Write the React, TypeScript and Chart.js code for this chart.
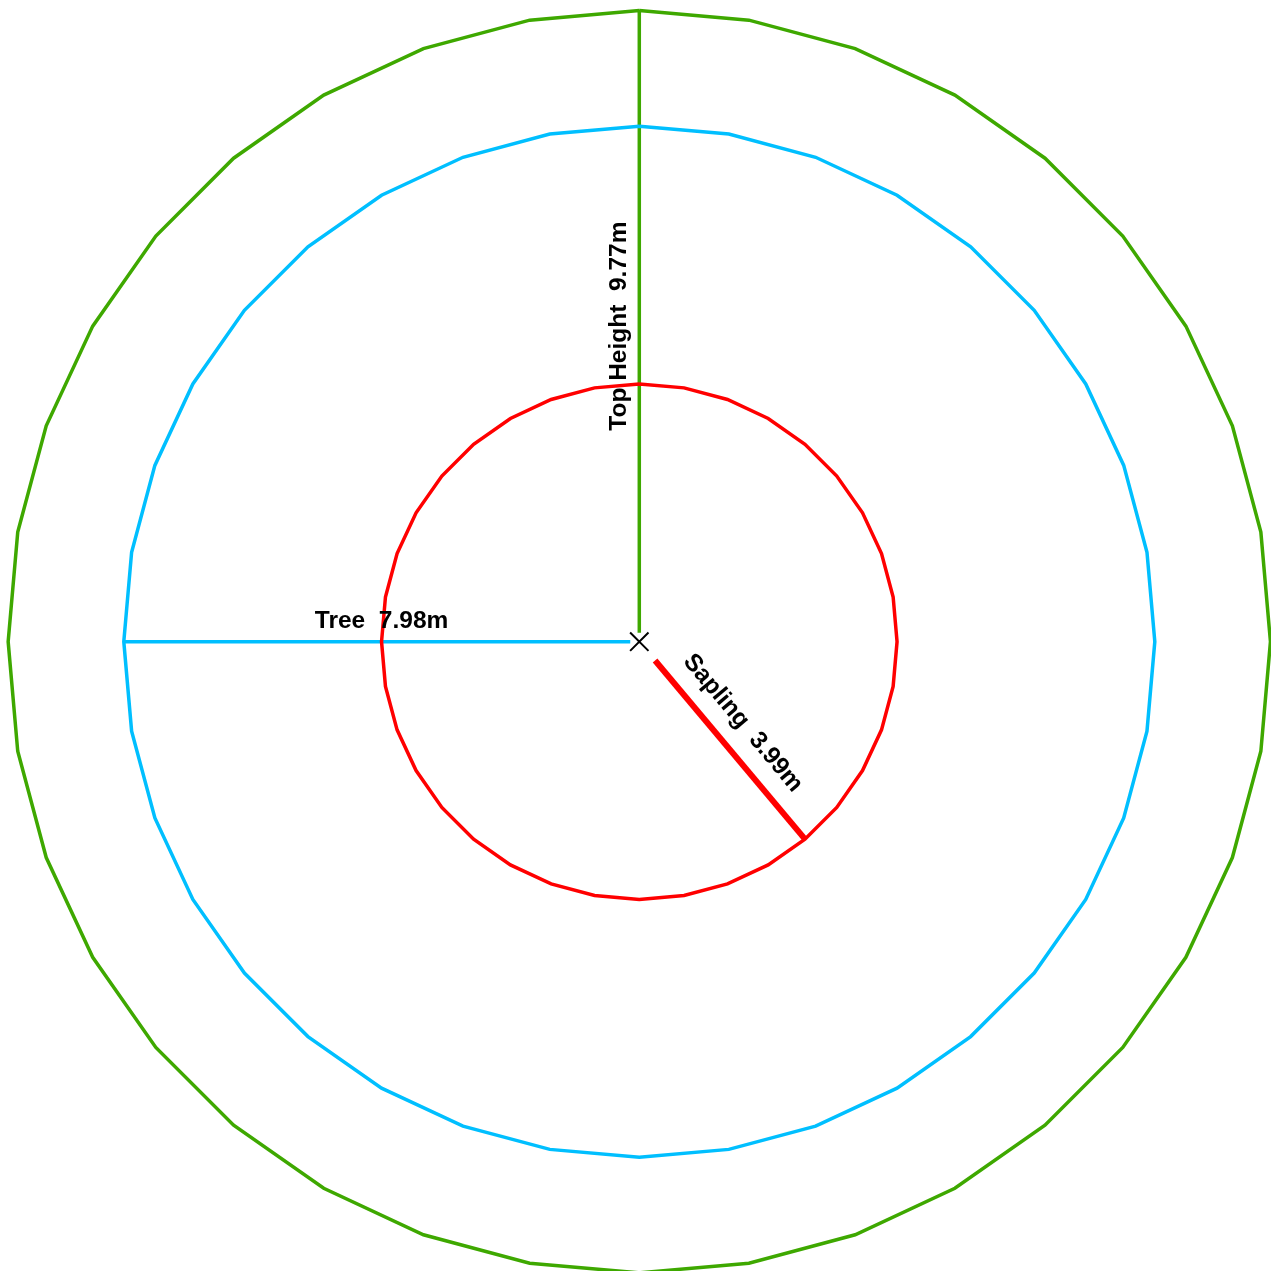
import React, { useEffect, useRef } from "react";
import { Chart, registerables } from "chart.js";

Chart.register(...registerables);

const zoneNames = ["Top Height", "Tree", "Sapling"];
const zoneRadii = [9.77, 7.98, 3.99];
const zoneColors = ["#3ea800", "#00bfff", "#ff0000"];
const radialAnglesDeg = [90, 180, -50];
const radialStart = [0.14, 0.14, 0.38];
const radialWidths = [3.5, 3.5, 6];
const polygonSides = 36;

function ringPoints(r: number) {
  const pts: { x: number; y: number }[] = [];
  for (let i = 0; i <= polygonSides; i++) {
    const a = (Math.PI * 2 * i) / polygonSides + Math.PI / 2;
    pts.push({ x: r * Math.cos(a), y: r * Math.sin(a) });
  }
  return pts;
}

const labelPlugin = {
  id: "radialLabels",
  afterDatasetsDraw(chart: any) {
    const { ctx, scales } = chart;
    const xs = scales.x;
    const ys = scales.y;
    ctx.save();
    ctx.fillStyle = "#000";
    ctx.font = "bold 24.5px 'Liberation Sans', Arial, sans-serif";
    ctx.textAlign = "center";
    ctx.textBaseline = "middle";
    zoneNames.forEach((name, i) => {
      const r = zoneRadii[i] / 2;
      const a = (radialAnglesDeg[i] * Math.PI) / 180;
      const px = xs.getPixelForValue(r * Math.cos(a));
      const py = ys.getPixelForValue(r * Math.sin(a));
      const dx = Math.cos(a);
      const dy = -Math.sin(a);
      let rot = Math.atan2(dy, dx);
      if (rot > Math.PI / 2) rot -= Math.PI;
      if (rot < -Math.PI / 2) rot += Math.PI;
      const off = i === 2 ? 27 : 20;
      const nx = Math.sin(rot);
      const ny = -Math.cos(rot);
      ctx.save();
      ctx.translate(px + nx * off, py + ny * off);
      ctx.rotate(rot);
      ctx.fillText(`${name}  ${zoneRadii[i].toFixed(2)}m`, 0, 0);
      ctx.restore();
    });
    ctx.restore();
  },
};

export default function App() {
  const ref = useRef<HTMLCanvasElement | null>(null);
  useEffect(() => {
    if (!ref.current) return;
    const k = 64.6;
    const cx = 639.3;
    const cy = 641.7;
    const W = 1271;
    const datasets: any[] = [];
    zoneRadii.forEach((r, i) => {
      datasets.push({
        label: zoneNames[i] + " ring",
        data: ringPoints(r),
        showLine: true,
        borderColor: zoneColors[i],
        borderWidth: 3.5,
        borderJoinStyle: "miter",
        pointRadius: 0,
        fill: false,
        clip: false,
        tension: 0,
      });
    });
    zoneRadii.forEach((r, i) => {
      const a = (radialAnglesDeg[i] * Math.PI) / 180;
      datasets.push({
        label: zoneNames[i] + " radius",
        data: [
          { x: radialStart[i] * Math.cos(a), y: radialStart[i] * Math.sin(a) },
          { x: r * Math.cos(a), y: r * Math.sin(a) },
        ],
        showLine: true,
        borderColor: zoneColors[i],
        borderWidth: radialWidths[i],
        borderCapStyle: "butt",
        pointRadius: 0,
        fill: false,
        clip: false,
      });
    });
    datasets.push({
      label: "centre",
      data: [{ x: 0, y: 0 }],
      pointStyle: "crossRot",
      pointRadius: 13,
      borderColor: "#000",
      borderWidth: 2,
      showLine: false,
      clip: false,
    });
    const chart = new Chart(ref.current, {
      type: "scatter",
      data: { datasets },
      options: {
        animation: false,
        responsive: true,
        maintainAspectRatio: false,
        layout: { padding: 0, autoPadding: false },
        plugins: { legend: { display: false }, tooltip: { enabled: false } },
        scales: {
          x: { type: "linear", display: false, min: -cx / k, max: (W - cx) / k },
          y: { type: "linear", display: false, min: -(W - cy) / k, max: cy / k },
        },
      },
      plugins: [labelPlugin],
    });
    return () => chart.destroy();
  }, []);
  return (
    <div style={{ position: "absolute", left: 0, top: 0, width: 1271, height: 1271, background: "#fff" }}>
      <canvas ref={ref} />
    </div>
  );
}
